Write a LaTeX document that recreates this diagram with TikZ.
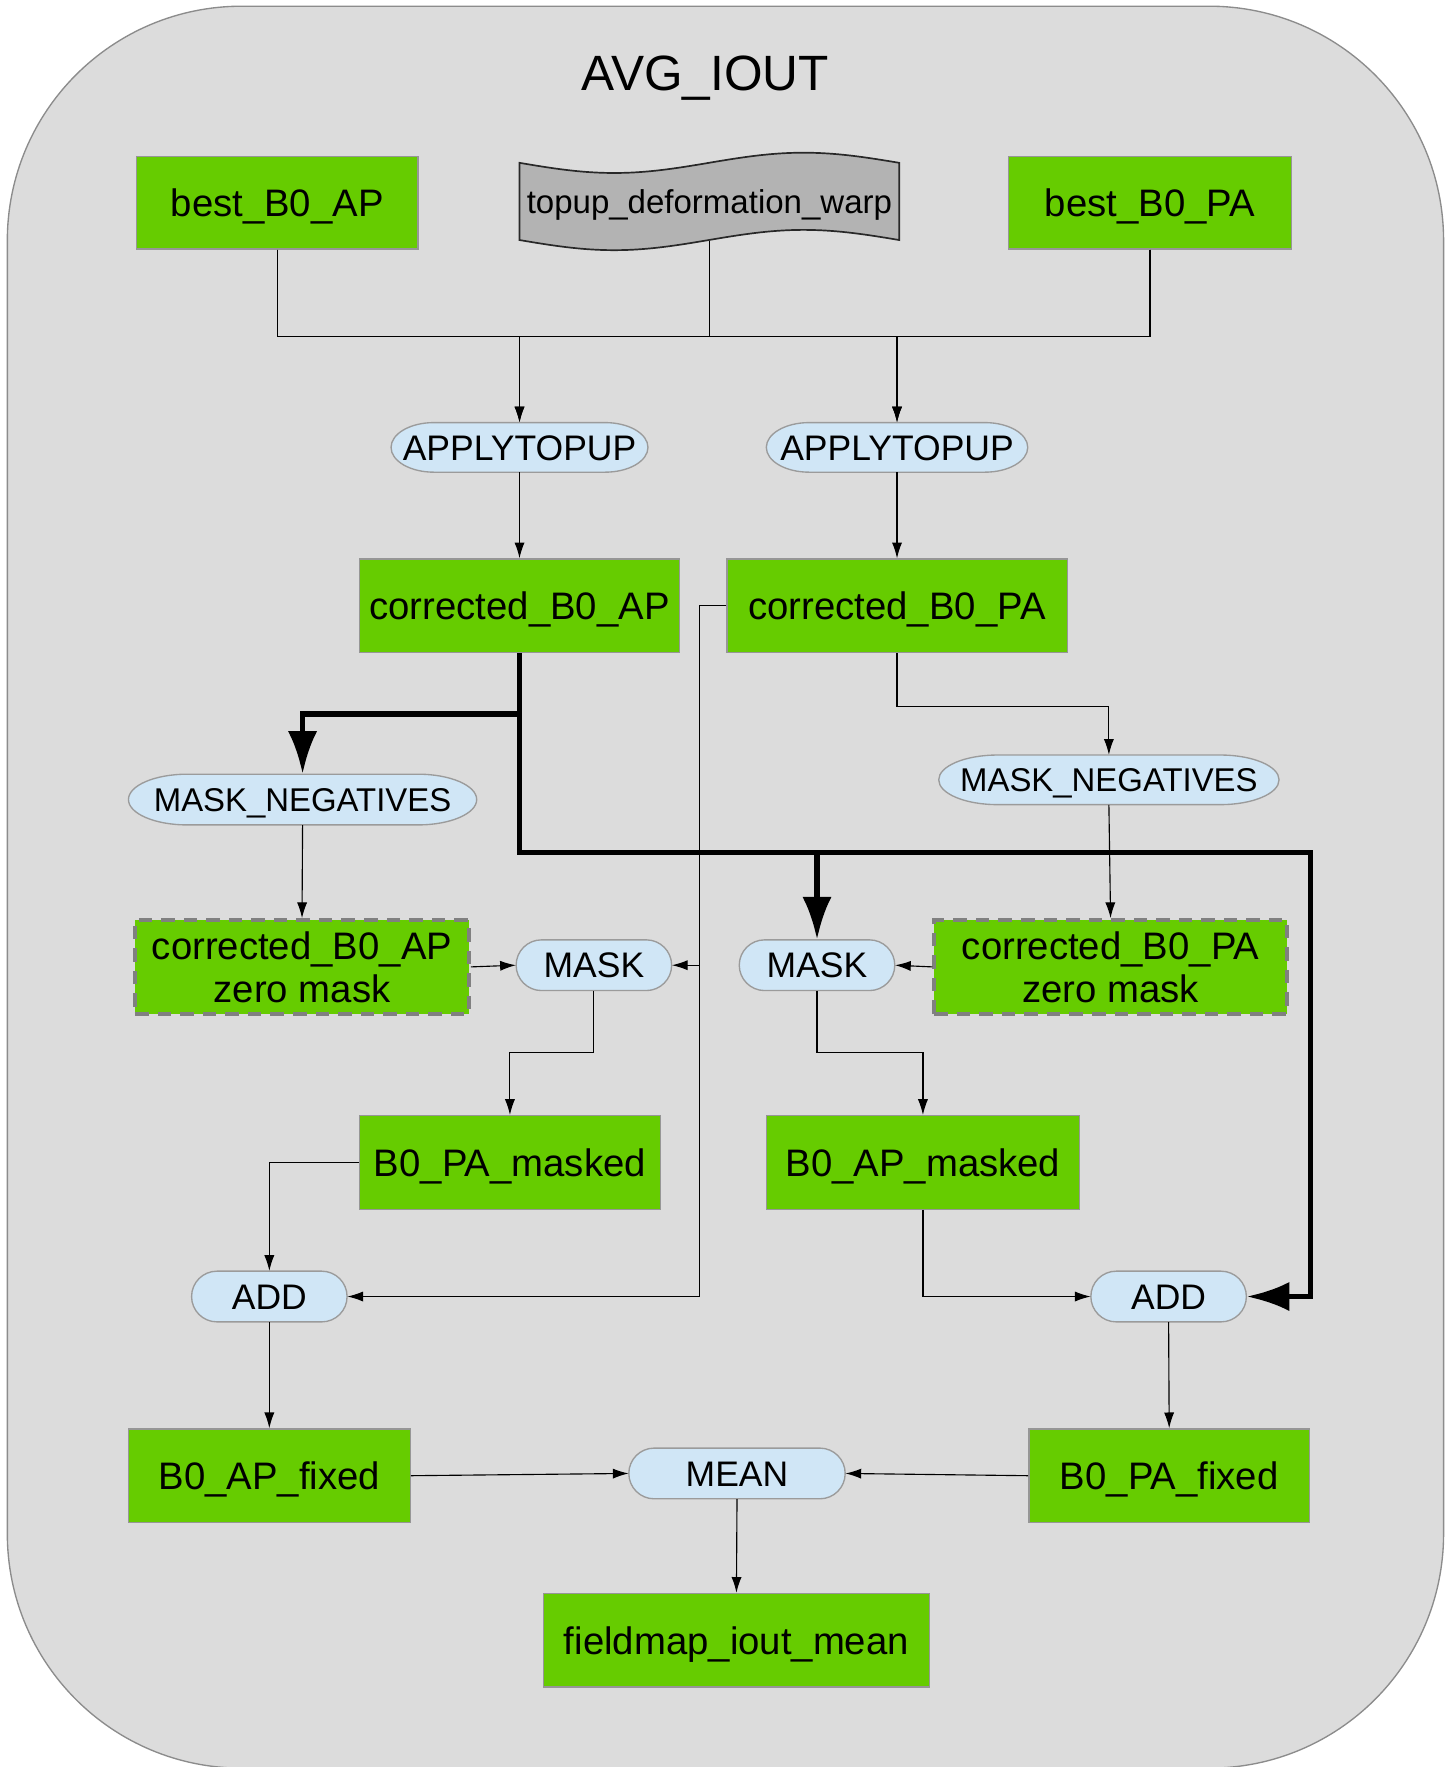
\documentclass[tikz,border=0pt]{standalone}
\usepackage{fontspec}
\setmainfont{Liberation Sans}
\usetikzlibrary{arrows.meta}
\definecolor{boxgreen}{RGB}{102,204,0}
\definecolor{boxborder}{RGB}{150,150,150}
\definecolor{dashgray}{RGB}{128,128,128}
\definecolor{opfill}{RGB}{208,230,246}
\definecolor{opborder}{RGB}{155,155,155}
\definecolor{bgfill}{RGB}{220,220,220}
\definecolor{bgborder}{RGB}{140,140,140}
\definecolor{tapefill}{RGB}{179,179,179}
\definecolor{tapeborder}{RGB}{40,40,40}
\tikzset{
  box/.style={rectangle, fill=boxgreen, draw=boxborder, line width=1.2pt, inner sep=0pt,
    font=\fontsize{34}{38}\selectfont, text height=24.5pt, text depth=0pt},
  dbox/.style={rectangle, fill=boxgreen, draw=dashgray, line width=3.5pt,
    dash pattern=on 12pt off 8pt, inner sep=0pt, align=center,
    font=\fontsize{34}{38}\selectfont},
  opnode/.style={rectangle, inner sep=0pt, font=\fontsize{31.5}{36}\selectfont,
    text height=22.5pt, text depth=0pt},
  opsmall/.style={rectangle, inner sep=0pt, font=\fontsize{29.2}{34}\selectfont,
    text height=21pt, text depth=0pt},
  opshape/.style={fill=opfill, draw=opborder, line width=1.2pt},
  tapenode/.style={rectangle, inner sep=0pt, font=\fontsize{29.3}{34}\selectfont,
    text height=21pt, text depth=0pt},
  tapeshape/.style={fill=tapefill, draw=tapeborder, line width=1.5pt},
  bgshape/.style={fill=bgfill, draw=bgborder, line width=1.2pt},
  edge/.style={draw=black, line width=1pt, -{Latex[length=14pt,width=9pt]}},
  plainedge/.style={draw=black, line width=1pt},
  thickedge/.style={draw=black, line width=5pt, -{Latex[length=38pt,width=26pt]}},
  titlestyle/.style={inner sep=0pt, font=\fontsize{44}{48}\selectfont, text height=31.5pt, text depth=0pt}
}
% op background: cx, cy, half width, half height, end radius
\newcommand\opbg[5]{%
  \draw[opshape] ({#1-#3+#5},{#2-#4}) -- ({#1+#3-#5},{#2-#4})
    arc[start angle=90,end angle=-90,x radius=#5pt,y radius=#4pt]
    -- ({#1-#3+#5},{#2+#4})
    arc[start angle=270,end angle=90,x radius=#5pt,y radius=#4pt] -- cycle;}
\begin{document}
\begin{tikzpicture}[x=1pt,y=-1pt]
\useasboundingbox (0,0) rectangle (1289,1568);
% background container
\draw[bgshape, rounded corners=208pt] (6.5,5.5) rectangle (1281,1569);
\node[titlestyle] (title) at (626,65) {AVG\_IOUT};

% tape shape
\draw[tapeshape] (461,144.5) sin (545,153.5) cos (629,144.5) sin (713,135.5) cos (798,144.5)
  -- (798,213) sin (713,204) cos (629,213) sin (545,222) cos (461,213) -- cycle;

% op shapes
\opbg{461}{397}{114}{22}{38}
\opbg{796}{397}{116}{22}{38}
\opbg{268.5}{709.5}{154.5}{22.5}{52}
\opbg{984}{692}{151}{22}{52}
\opbg{527}{856.5}{69}{22.5}{22.5}
\opbg{725}{856.5}{69}{22.5}{22.5}
\opbg{239}{1150.5}{69}{22.5}{22.5}
\opbg{1037}{1150.5}{69}{22.5}{22.5}
\opbg{654}{1307.5}{96}{22.5}{22.5}

% nodes
\node[box, minimum width=250pt, minimum height=82pt] (bAP) at (246,180) {best\_B0\_AP};
\node[tapenode, minimum width=337pt, minimum height=69pt] (topup) at (629.5,179) {topup\_deformation\_warp};
\node[box, minimum width=251pt, minimum height=82pt] (bPA) at (1020.5,180) {best\_B0\_PA};
\node[opnode, minimum width=228pt, minimum height=44pt] (apL) at (461,397) {APPLYTOPUP};
\node[opnode, minimum width=232pt, minimum height=44pt] (apR) at (796,397) {APPLYTOPUP};
\node[box, minimum width=284pt, minimum height=83pt] (cAP) at (461,537.5) {corrected\_B0\_AP};
\node[box, minimum width=302pt, minimum height=83pt] (cPA) at (796,537.5) {corrected\_B0\_PA};
\node[opsmall, minimum width=309pt, minimum height=45pt] (mnL) at (268.5,709.5) {MASK\_NEGATIVES};
\node[opsmall, minimum width=302pt, minimum height=44pt] (mnR) at (984,692) {MASK\_NEGATIVES};
\node[dbox, minimum width=296pt, minimum height=83pt] (zmL) at (268,858) {corrected\_B0\_AP\\zero mask};
\node[opnode, minimum width=138pt, minimum height=45pt] (maskL) at (527,856.5) {MASK};
\node[opnode, minimum width=138pt, minimum height=45pt] (maskR) at (725,856.5) {MASK};
\node[dbox, minimum width=313pt, minimum height=83pt] (zmR) at (985.5,858) {corrected\_B0\_PA\\zero mask};
\node[box, minimum width=267pt, minimum height=83pt] (pam) at (452.5,1031.5) {B0\_PA\_masked};
\node[box, minimum width=278pt, minimum height=83pt] (apm) at (819,1031.5) {B0\_AP\_masked};
\node[opnode, minimum width=138pt, minimum height=45pt] (addL) at (239,1150.5) {ADD};
\node[opnode, minimum width=138pt, minimum height=45pt] (addR) at (1037,1150.5) {ADD};
\node[box, minimum width=250pt, minimum height=83pt] (fAP) at (239,1309.5) {B0\_AP\_fixed};
\node[opnode, minimum width=192pt, minimum height=45pt] (mean) at (654,1307.5) {MEAN};
\node[box, minimum width=249pt, minimum height=83pt] (fPA) at (1037.5,1309.5) {B0\_PA\_fixed};
\node[box, minimum width=343pt, minimum height=83pt] (fim) at (653.5,1455.5) {fieldmap\_iout\_mean};

% top junction
\draw[edge] (bAP.south) -- ++(0,77) -| (apL.north);
\draw[edge] (bAP.south) -- ++(0,77) -| (apR.north);
\draw[edge] (bPA.south) -- ++(0,77) -| (apL.north);
\draw[edge] (bPA.south) -- ++(0,77) -| (apR.north);
\draw[plainedge] (topup.south) -- ++(0,84.5);

\draw[edge] (apL.south) -- (cAP.north);
\draw[edge] (apR.south) -- (cPA.north);

% thick edges from corrected_B0_AP
\coordinate (rc) at (1163,1150.5);
\draw[thickedge] (cAP.south) -- ++(0,177) -| (rc) -- (addR.east);
\draw[thickedge] (cAP.south) -- ++(0,177) -| (maskR.north);
\draw[thickedge] (cAP.south) -- ++(0,54) -| (mnL.north);

% corrected_B0_PA edges
\draw[edge] (cPA.south) -- ++(0,47) -| (mnR.north);
\draw[edge] (cPA.west) -- ++(-24,0) |- (maskL.east);
\draw[edge] (cPA.west) -- ++(-24,0) |- (addL.east);

\draw[edge] (mnL.south) -- (zmL.north);
\draw[edge] (mnR.south) -- (zmR.north);
\draw[edge] (zmL.east) -- (maskL.west);
\draw[edge] (zmR.west) -- (maskR.east);

\draw[edge] (maskL.south) -- ++(0,55) -| (pam.north);
\draw[edge] (maskR.south) -- ++(0,55) -| (apm.north);

\draw[edge] (pam.west) -| (addL.north);
\draw[edge] (apm.south) |- (addR.west);

\draw[edge] (addL.south) -- (fAP.north);
\draw[edge] (addR.south) -- (fPA.north);
\draw[edge] (fAP.east) -- (mean.west);
\draw[edge] (fPA.west) -- (mean.east);
\draw[edge] (mean.south) -- (fim.north);
\end{tikzpicture}
\end{document}
